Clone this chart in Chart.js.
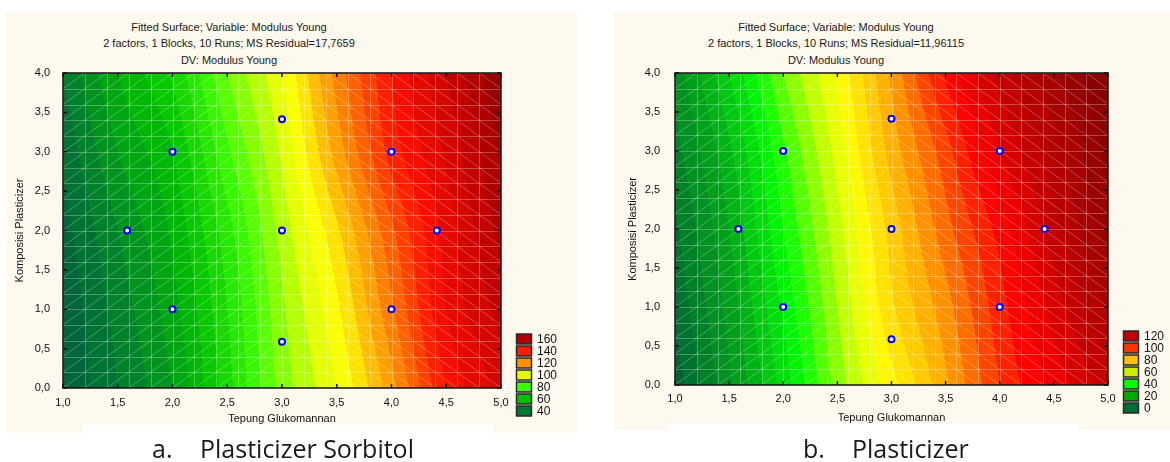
<!DOCTYPE html>
<html>
<head>
<meta charset="utf-8">
<script src="https://cdn.jsdelivr.net/npm/chart.js@4.4.1/dist/chart.umd.min.js"></script>
<style>
  body { margin: 0; width: 1170px; height: 462px; background: #fff; position: relative; overflow: hidden; font-family: "Liberation Sans", Arial, sans-serif; }
  .panel { position: absolute; background: #fdf9ef; }
  .title { position: absolute; width: 400px; text-align: center; font-size: 11px; line-height: 16.5px; color: #1a1a1a; }
  canvas { position: absolute; }
  .capbox { position: absolute; background: #fff; z-index: 2; }
  .cap { position: absolute; font-family: "Open Sans", sans-serif; font-size: 25px; line-height: 24px; color: #1a1a1a; z-index: 3; white-space: pre; }
</style>
</head>
<body>
<div class="panel" style="left:6px;top:12px;width:571px;height:421px;"></div>
<div class="panel" style="left:614px;top:12px;width:556px;height:418px;"></div>

<div class="title" style="left:29px;top:18.5px;">Fitted Surface; Variable: Modulus Young<br>2 factors, 1 Blocks, 10 Runs; MS Residual=17,7659<br>DV: Modulus Young</div>
<div class="title" style="left:636px;top:18.5px;">Fitted Surface; Variable: Modulus Young<br>2 factors, 1 Blocks, 10 Runs; MS Residual=11,96115<br>DV: Modulus Young</div>

<canvas id="chart-a" width="571" height="421" style="left:6px;top:12px;"></canvas>
<canvas id="chart-b" width="556" height="418" style="left:614px;top:12px;"></canvas>

<div class="capbox" style="left:83px;top:425px;width:410px;height:40px;"></div>
<div class="capbox" style="left:668px;top:423px;width:410px;height:40px;"></div>
<div class="cap" style="left:152px;top:436px;">a.</div>
<div class="cap" style="left:200px;top:436px;">Plasticizer Sorbitol</div>
<div class="cap" style="left:803px;top:436px;">b.</div>
<div class="cap" style="left:852px;top:436px;">Plasticizer</div>

<script>
// Grade onde a superfície foi lida (Tepung Glukomannan x Komposisi Plasticizer)
const gridX = [1.0, 1.5, 2.0, 2.5, 3.0, 3.5, 4.0, 4.5, 5.0];
const gridY = [0, 1, 2, 3, 4];

// Modulus Young estimado nos nós da grade (linhas = gridY)
const surfaceSorbitol = [
    [30, 40, 50, 68, 87, 100, 118, 140, 152],
    [31, 42, 53, 70, 89, 104, 124, 145, 157],
    [33, 45, 56, 73, 92, 109, 129, 147, 162],
    [36, 50, 60, 79, 96, 117, 137, 151, 166],
    [40, 55, 66, 85, 100, 122, 140, 155, 170]
];
const surfacePlasticizer = [
    [-3, 14, 32, 52, 68, 84, 100, 112, 122],
    [1, 17, 36, 55, 74, 88, 103, 117, 131],
    [4, 20, 40, 58, 77, 93, 107, 123, 138],
    [8, 24, 44, 62, 82, 98, 115, 128, 142],
    [12, 30, 50, 66, 86, 106, 122, 134, 145]
];

// Pontos experimentais (10 runs, o ponto central repetido)
const runsX = [1.586, 2, 2, 3, 3, 3, 4, 4, 4.414];
const runsY = [2, 1, 3, 0.586, 2, 3.414, 1, 3, 2];

// Níveis da legenda
const levelsSorbitol = [40, 60, 80, 100, 120, 140, 160];
const levelsPlasticizer = [0, 20, 40, 60, 80, 100, 120];

// Estilos: cores da legenda e mapa de cores contínuo
const legendColorsSorbitol = ['#007830', '#00c000', '#3cff00', '#e4ff00', '#ff9000', '#ff1a00', '#b40000'];
const legendColorsPlasticizer = ['#006d30', '#00aa00', '#00ff00', '#ccf000', '#ffc000', '#ff3300', '#c00000'];
const stopsSorbitol = [
    [28, '#005a3c'], [40, '#007830'], [60, '#00c000'], [80, '#40ff00'], [98, '#e8ff00'],
    [104, '#ffff00'], [112, '#ffc000'], [120, '#ff9000'], [130, '#ff5000'], [140, '#ff1000'],
    [160, '#b80000'], [172, '#860000']
];
const stopsPlasticizer = [
    [-5, '#005a3c'], [0, '#006a32'], [20, '#00a818'], [40, '#00ff00'], [58, '#c8ff00'],
    [66, '#ffff00'], [80, '#ffc000'], [90, '#ff8000'], [100, '#ff3000'], [108, '#ff0000'],
    [122, '#c40000'], [146, '#800000']
];

const FONT = '"Liberation Sans", Arial, sans-serif';
const fmt = v => v.toFixed(1).replace('.', ',');

function hexToRgb(hex) {
    const n = parseInt(hex.slice(1), 16);
    return [(n >> 16) & 255, (n >> 8) & 255, n & 255];
}

function colorAt(stops, z) {
    if (z <= stops[0][0]) return hexToRgb(stops[0][1]);
    for (let i = 1; i < stops.length; i++) {
        if (z <= stops[i][0]) {
            const t = (z - stops[i - 1][0]) / (stops[i][0] - stops[i - 1][0]);
            const a = hexToRgb(stops[i - 1][1]), b = hexToRgb(stops[i][1]);
            return a.map((c, k) => Math.round(c + (b[k] - c) * t));
        }
    }
    return hexToRgb(stops[stops.length - 1][1]);
}

function findCell(grid, v) {
    let i = 0;
    while (i < grid.length - 2 && v > grid[i + 1]) i++;
    const t = Math.min(1, Math.max(0, (v - grid[i]) / (grid[i + 1] - grid[i])));
    return [i, t];
}

// Catmull-Rom entre os nós (extremos extrapolados linearmente)
function cr(p, i, t) {
    const n = p.length;
    const at = k => k < 0 ? 2 * p[0] - p[1] : (k >= n ? 2 * p[n - 1] - p[n - 2] : p[k]);
    const p0 = at(i - 1), p1 = at(i), p2 = at(i + 1), p3 = at(i + 2);
    return 0.5 * (2 * p1 + (-p0 + p2) * t + (2 * p0 - 5 * p1 + 4 * p2 - p3) * t * t + (-p0 + 3 * p1 - 3 * p2 + p3) * t * t * t);
}

function sampleSurface(z, vx, vy) {
    const [i, u] = findCell(gridX, vx);
    const [j, v] = findCell(gridY, vy);
    const col = z.map(row => cr(row, i, u));
    return cr(col, j, v);
}

function makeSurfacePlugin(z, stops, band) {
    return {
        id: 'surface',
        beforeDatasetsDraw(chart) {
            const { ctx, chartArea: a, scales: { x, y } } = chart;
            const w = Math.round(a.right - a.left), h = Math.round(a.bottom - a.top);
            const off = document.createElement('canvas');
            off.width = w; off.height = h;
            const octx = off.getContext('2d');
            const img = octx.createImageData(w, h);
            for (let py = 0; py < h; py++) {
                const vy = y.getValueForPixel(a.top + py + 0.5);
                for (let px = 0; px < w; px++) {
                    const vx = x.getValueForPixel(a.left + px + 0.5);
                    let v = sampleSurface(z, vx, vy);
                    v = Math.floor(v / band) * band + band / 2;
                    const c = colorAt(stops, v);
                    const k = (py * w + px) * 4;
                    img.data[k] = c[0]; img.data[k + 1] = c[1]; img.data[k + 2] = c[2]; img.data[k + 3] = 255;
                }
            }
            octx.putImageData(img, 0, 0);
            ctx.save();
            ctx.drawImage(off, a.left, a.top, w, h);

            // malha clara da superfície
            ctx.beginPath();
            ctx.rect(a.left, a.top, a.right - a.left, a.bottom - a.top);
            ctx.clip();
            ctx.strokeStyle = 'rgba(255,255,255,0.28)';
            ctx.lineWidth = 1;
            ctx.beginPath();
            for (let i = 0; i <= 20; i++) {
                const gx = Math.round(x.getPixelForValue(1 + i * 0.2)) + 0.5;
                ctx.moveTo(gx, a.top); ctx.lineTo(gx, a.bottom);
                const gy = Math.round(y.getPixelForValue(i * 0.2)) + 0.5;
                ctx.moveTo(a.left, gy); ctx.lineTo(a.right, gy);
            }
            for (let i = 0; i < 20; i++) {
                const x0 = 1 + i * 0.2, x1 = x0 + 0.2;
                for (let j = 0; j < 20; j++) {
                    const y0 = j * 0.2, y1 = y0 + 0.2;
                    if (x0 < 2.99) {
                        ctx.moveTo(x.getPixelForValue(x0), y.getPixelForValue(y0));
                        ctx.lineTo(x.getPixelForValue(x1), y.getPixelForValue(y1));
                    } else {
                        ctx.moveTo(x.getPixelForValue(x0), y.getPixelForValue(y1));
                        ctx.lineTo(x.getPixelForValue(x1), y.getPixelForValue(y0));
                    }
                }
            }
            ctx.stroke();
            ctx.restore();
        }
    };
}

function makeFramePlugin(levels, colors) {
    return {
        id: 'frameLegend',
        afterDraw(chart) {
            const { ctx, chartArea: a, scales: { x, y } } = chart;
            ctx.save();
            // ticks internos nos quatro lados
            ctx.strokeStyle = '#111';
            ctx.lineWidth = 1.5;
            ctx.beginPath();
            x.ticks.forEach(t => {
                const px = x.getPixelForValue(t.value);
                ctx.moveTo(px, a.top); ctx.lineTo(px, a.top + 4);
                ctx.moveTo(px, a.bottom); ctx.lineTo(px, a.bottom - 4);
            });
            y.ticks.forEach(t => {
                const py = y.getPixelForValue(t.value);
                ctx.moveTo(a.left, py); ctx.lineTo(a.left + 4, py);
                ctx.moveTo(a.right, py); ctx.lineTo(a.right - 4, py);
            });
            ctx.stroke();
            ctx.strokeRect(a.left, a.top, a.right - a.left, a.bottom - a.top);

            // legenda dos níveis
            ctx.font = '12px ' + FONT;
            ctx.textBaseline = 'middle';
            levels.forEach((lv, i) => {
                const cy = a.bottom + 23 - i * 12;
                ctx.fillStyle = colors[i];
                ctx.fillRect(a.right + 15.5, cy - 5, 15, 10);
                ctx.strokeStyle = '#2a2a2a';
                ctx.lineWidth = 1.5;
                ctx.strokeRect(a.right + 15.5, cy - 5, 15, 10);
                ctx.fillStyle = '#111';
                ctx.fillText(String(lv), a.right + 36, cy + 0.5);
            });
            ctx.restore();
        }
    };
}

function buildChart(canvasId, cfg) {
    const points = runsX.map((vx, i) => ({ x: vx, y: runsY[i] }));
    return new Chart(document.getElementById(canvasId), {
        type: 'scatter',
        data: {
            datasets: [{
                data: points,
                pointRadius: 3,
                pointBorderWidth: 2,
                pointBorderColor: '#0000ff',
                pointBackgroundColor: '#ffffff'
            }]
        },
        options: {
            responsive: false,
            animation: false,
            devicePixelRatio: 1,
            layout: { padding: { top: 61, right: cfg.padRight, left: 0, bottom: 0 } },
            plugins: { legend: { display: false }, tooltip: { enabled: false } },
            scales: {
                x: {
                    type: 'linear', min: 1, max: 5,
                    grid: { display: false, drawTicks: false, tickLength: 0 },
                    border: { display: false },
                    ticks: { stepSize: 0.5, padding: cfg.xTickPad, color: '#111', callback: v => fmt(v), maxRotation: 0 },
                    title: { display: true, text: 'Tepung Glukomannan', color: '#111', padding: { top: 0, bottom: cfg.xTitlePad } },
                    afterFit: s => { s.height = 45; }
                },
                y: {
                    type: 'linear', min: 0, max: 4,
                    grid: { display: false, drawTicks: false, tickLength: 0 },
                    border: { display: false },
                    ticks: { stepSize: 0.5, padding: cfg.yTickPad, color: '#111', callback: v => fmt(v) },
                    title: { display: true, text: 'Komposisi Plasticizer', color: '#111', padding: { top: cfg.yTitlePad, bottom: 0 } },
                    afterFit: s => { s.width = cfg.yWidth; }
                }
            }
        },
        plugins: [makeSurfacePlugin(cfg.surface, cfg.stops, 5), makeFramePlugin(cfg.levels, cfg.colors)]
    });
}

Chart.defaults.font.family = FONT;
Chart.defaults.font.size = 11;

buildChart('chart-a', {
    surface: surfaceSorbitol, stops: stopsSorbitol,
    levels: levelsSorbitol, colors: legendColorsSorbitol,
    padRight: 76, yWidth: 57, xTickPad: 8, yTickPad: 13, xTitlePad: 7.4, yTitlePad: 7.4
});
buildChart('chart-b', {
    surface: surfacePlasticizer, stops: stopsPlasticizer,
    levels: levelsPlasticizer, colors: legendColorsPlasticizer,
    padRight: 62, yWidth: 61, xTickPad: 7, yTickPad: 15, xTitlePad: 5.4, yTitlePad: 12.4
});
</script>
</body>
</html>
